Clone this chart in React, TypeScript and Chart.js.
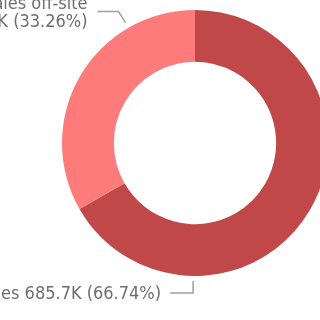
import React, { useEffect, useRef } from "react";
import { Chart, registerables } from "chart.js";

Chart.register(...registerables);

// Share of sales by channel (thousands)
const categories = ["Sales", "Sales off-site"];
const values = [685.7, 341.7];
const percentLabels = ["66.74%", "33.26%"];
const colors = ["#C04848", "#FD7B7B"];

const LABEL_FONT = "18px 'DejaVu Sans Condensed', 'Roboto', sans-serif";
const LABEL_COLOR = "#6E6E6E";
const LEADER_COLOR = "#A0A0A0";

// Draws the outside data labels with elbow leader lines
const leaderLabels = {
  id: "leaderLabels",
  afterDraw(chart: any) {
    const meta = chart.getDatasetMeta(0);
    const ctx = chart.ctx as CanvasRenderingContext2D;
    const arc0 = meta.data[0];
    if (!arc0) return;
    const cx = arc0.x;
    const cy = arc0.y;
    const r = arc0.outerRadius;
    ctx.save();
    ctx.font = LABEL_FONT;
    ctx.fillStyle = LABEL_COLOR;
    ctx.strokeStyle = LEADER_COLOR;
    ctx.lineWidth = 1.5;
    ctx.textAlign = "right";
    ctx.textBaseline = "middle";

    // Off-site slice: two-line label up and to the left
    {
      const a = (-120 * Math.PI) / 180;
      const p0x = cx + Math.cos(a) * (r + 6);
      const p0y = cy + Math.sin(a) * (r + 6);
      const elbowX = p0x - 7;
      const elbowY = p0y - 11;
      const endX = elbowX - 21;
      ctx.beginPath();
      ctx.moveTo(p0x, p0y);
      ctx.lineTo(elbowX, elbowY);
      ctx.lineTo(endX, elbowY);
      ctx.stroke();
      const tx = endX - 10;
      ctx.fillText(categories[1], tx, elbowY - 7);
      ctx.fillText(`${values[1]}K (${percentLabels[1]})`, tx, elbowY + 11);
    }

    // Main slice: label below
    {
      const a = (90.8 * Math.PI) / 180;
      const p0x = cx + Math.cos(a) * (r + 5);
      const p0y = cy + Math.sin(a) * (r + 5);
      const elbowY = p0y + 12;
      const endX = p0x - 23;
      ctx.beginPath();
      ctx.moveTo(p0x, p0y);
      ctx.lineTo(p0x, elbowY);
      ctx.lineTo(endX, elbowY);
      ctx.stroke();
      ctx.fillText(`${categories[0]} ${values[0]}K (${percentLabels[0]})`, endX - 9, elbowY + 1);
    }
    ctx.restore();
  },
};

export default function App() {
  const canvasRef = useRef<HTMLCanvasElement | null>(null);

  useEffect(() => {
    const canvas = canvasRef.current;
    if (!canvas) return;
    const chart = new Chart(canvas, {
      type: "doughnut",
      data: {
        labels: categories,
        datasets: [
          {
            data: values,
            backgroundColor: colors,
            borderWidth: 0,
          },
        ],
      },
      options: {
        responsive: false,
        animation: false,
        cutout: "61%",
        rotation: 0,
        layout: { padding: { left: 62, right: 12, top: 10, bottom: 44 } },
        plugins: {
          legend: { display: false },
          tooltip: { enabled: false },
        },
      },
      plugins: [leaderLabels],
    });
    return () => chart.destroy();
  }, []);

  return (
    <div
      style={{
        position: "absolute",
        left: 0,
        top: 0,
        width: 320,
        height: 320,
        overflow: "hidden",
        background: "#fff",
      }}
    >
      <canvas ref={canvasRef} width={340} height={320} style={{ display: "block" }} />
    </div>
  );
}
